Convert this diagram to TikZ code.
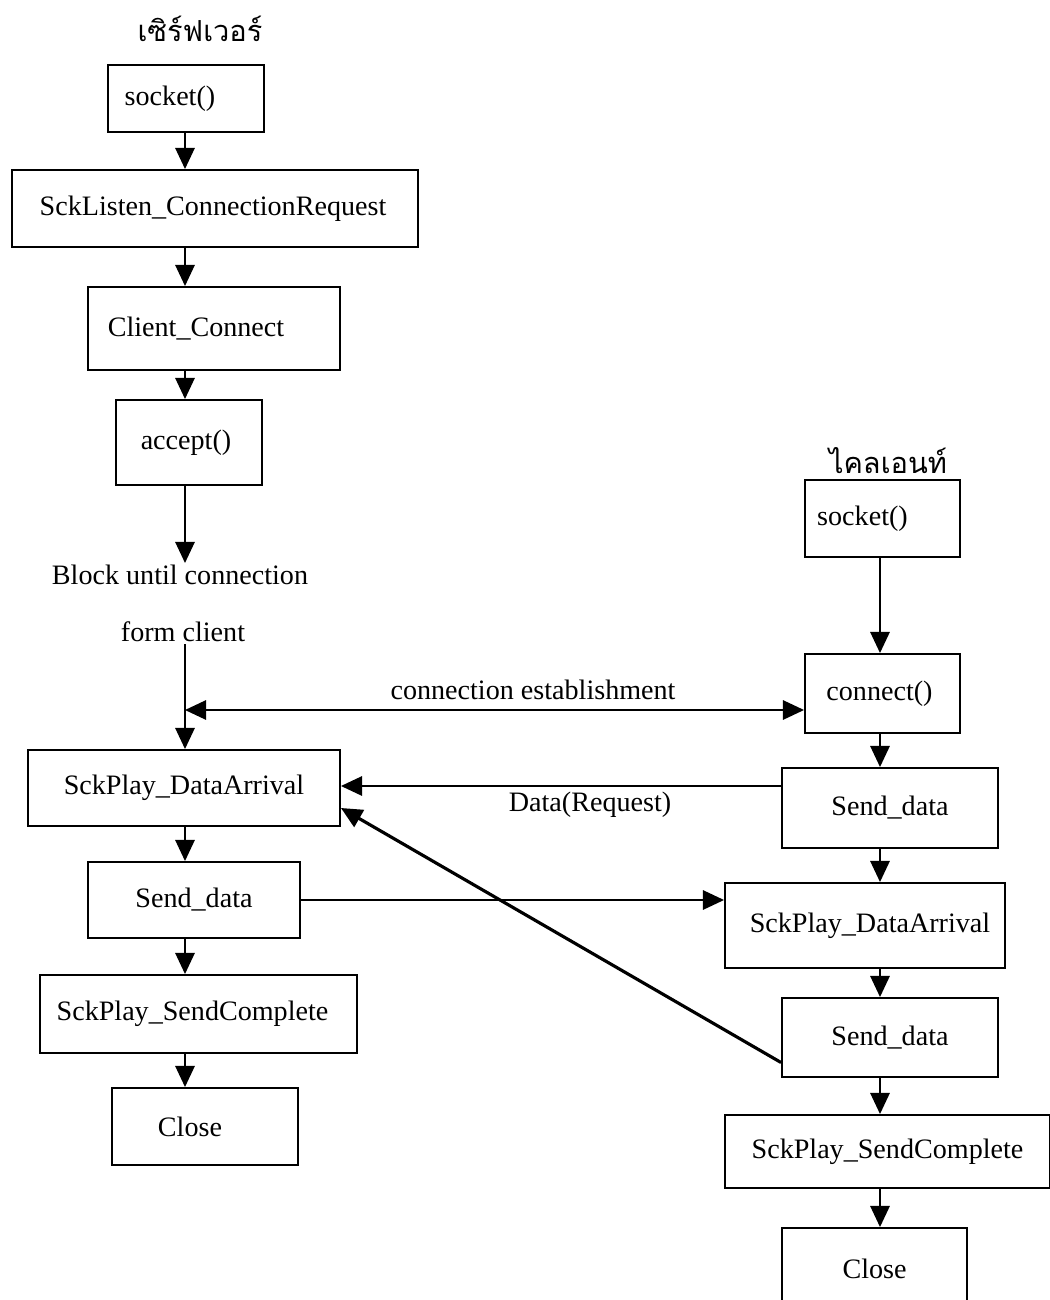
\documentclass[tikz,border=0pt]{standalone}
\usepackage{fontspec}
\setmainfont{Liberation Serif}
\newfontfamily\thaifont[Script=Thai]{Loma}
\usetikzlibrary{arrows.meta,fit,calc}

\tikzset{
  every label/.style={inner sep=0pt, font=\fontsize{16}{18}\selectfont},
  box/.style={draw, line width=1.1pt, inner sep=0pt},
  lbl/.style={inner sep=1pt, font=\fontsize{16}{18}\selectfont},
  title/.style={inner sep=1pt, font=\thaifont\fontsize{16.5}{19}\selectfont},
  arr/.style={line width=1.1pt, -{Triangle[length=12pt,width=11pt]}},
  darr/.style={line width=1.1pt, {Triangle[length=12pt,width=11pt]}-{Triangle[length=12pt,width=11pt]}},
  thick arr/.style={line width=1.8pt, -{Triangle[length=12pt,width=11pt]}}
}

\begin{document}
\begin{tikzpicture}[x=0.02cm, y=-0.02cm]
\useasboundingbox (0,0) rectangle (1050,1300);

% ---- server side ----
\node[title] (srv) at (200,29) {เซิร์ฟเวอร์};
\node[box, fit={(108,65) (264,132)}, label={[xshift=-0.32cm]center:socket()}] (s1) {};
\node[box, fit={(12,170) (418,247)}, label={[xshift=-0.04cm]center:SckListen\_ConnectionRequest}] (s2) {};
\node[box, fit={(88,287) (340,370)}, label={[xshift=-0.36cm]center:Client\_Connect}] (s3) {};
\node[box, fit={(116,400) (262,485)}, label={[xshift=-0.06cm]center:accept()}] (s4) {};
\node[lbl] (blk) at (180,575) {Block until connection};
\node[lbl] (fc) at (183,632) {form client};
\node[box, fit={(28,750) (340,826)}, label=center:SckPlay\_DataArrival] (s5) {};
\node[box, fit={(88,862) (300,938)}, label=center:Send\_data] (s6) {};
\node[box, fit={(40,975) (357,1053)}, label={[xshift=-0.12cm]center:SckPlay\_SendComplete}] (s7) {};
\node[box, fit={(112,1088) (298,1165)}, label={[xshift=-0.3cm]center:Close}] (s8) {};

\coordinate (sx) at (185,0);
\draw[arr] (s1.south -| sx) -- (s2.north -| sx);
\draw[arr] (s2.south -| sx) -- (s3.north -| sx);
\draw[arr] (s3.south -| sx) -- (s4.north -| sx);
\draw[arr] (s4.south -| sx) -- (blk.north -| sx);
\draw[arr] (fc.south -| sx) -- (s5.north -| sx);
\draw[arr] (s5.south -| sx) -- (s6.north -| sx);
\draw[arr] (s6.south -| sx) -- (s7.north -| sx);
\draw[arr] (s7.south -| sx) -- (s8.north -| sx);

% ---- client side ----
\node[title] (cli) at (888,461) {ไคลเอนท์};
\node[box, fit={(805,480) (960,557)}, label={[xshift=-0.4cm]center:socket()}] (c1) {};
\node[box, fit={(805,654) (960,733)}, label={[xshift=-0.06cm]center:connect()}] (c2) {};
\node[box, fit={(782,768) (998,848)}, label=center:Send\_data] (c3) {};
\node[box, fit={(725,883) (1005,968)}, label={[xshift=0.1cm]center:SckPlay\_DataArrival}] (c4) {};
\node[box, fit={(782,998) (998,1077)}, label=center:Send\_data] (c5) {};
\node[box, fit={(725,1115) (1050,1188)}, label=center:SckPlay\_SendComplete] (c6) {};
\node[box, fit={(782,1228) (967,1310)}, label=center:Close] (c7) {};

\coordinate (cx) at (880,0);
\draw[arr] (c1.south -| cx) -- (c2.north -| cx);
\draw[arr] (c2.south -| cx) -- (c3.north -| cx);
\draw[arr] (c3.south -| cx) -- (c4.north -| cx);
\draw[arr] (c4.south -| cx) -- (c5.north -| cx);
\draw[arr] (c5.south -| cx) -- (c6.north -| cx);
\draw[arr] (c6.south -| cx) -- (c7.north -| cx);

% ---- exchanges between the two sides ----
\coordinate (ce) at (185,710);
\draw[darr] (ce) -- (c2.west |- ce);
\node[lbl] (celbl) at (533,690) {connection establishment};

\coordinate (dr) at (0,786);
\draw[arr] (c3.west |- dr) -- (s5.east |- dr);
\node[lbl] (drlbl) at (590,805) {Data(Request)};

\draw[arr] (s6.east) -- (c4.west |- s6.east);

\draw[thick arr] ($(c5.west)+(0,25)$) -- ($(s5.east)+(0,20)$);
\end{tikzpicture}
\end{document}
